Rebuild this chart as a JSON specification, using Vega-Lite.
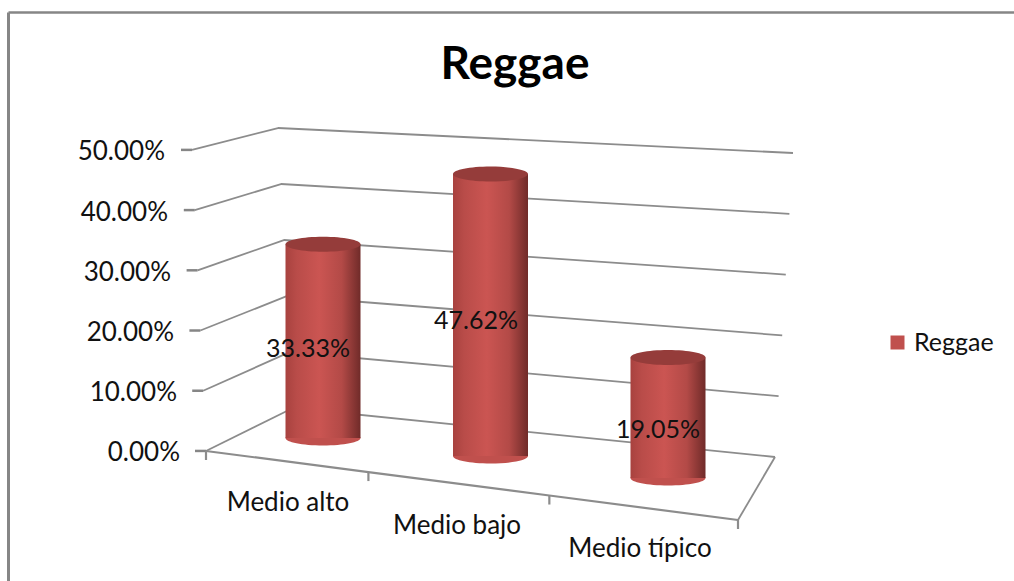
{
"$schema":"https://vega.github.io/schema/vega-lite/v6.json",
"width":1006,"height":569,
"autosize":{"type":"none"},
"padding":{"left":8,"top":12,"right":0,"bottom":0},
"background":"white",
"view":{"stroke":null},
"title":{"text":"Reggae","font":"Lato","fontSize":46,"fontWeight":"bold","color":"#000000","anchor":"middle","offset":-77,"dx":4},
"datasets":{
 "main":[
  {"category":"Medio alto","value":0.3333,"series":"Reggae"},
  {"category":"Medio bajo","value":0.4762,"series":"Reggae"},
  {"category":"Medio típico","value":0.1905,"series":"Reggae"}],
 "grid":[{"tick":0},{"tick":0.1},{"tick":0.2},{"tick":0.3},{"tick":0.4},{"tick":0.5}],
 "slots":[{"slot":0},{"slot":1},{"slot":2},{"slot":3}]
},
"layer":[
 {"data":{"name":"grid"},
  "mark":{"type":"rule","color":"#8c8c8c","strokeWidth":1.8,"y2Offset":{"expr":"-43+42*datum.tick"},"x2Offset":87},
  "encoding":{
   "x":{"field":"tick","type":"quantitative","scale":{"domain":[7.07,-28.86],"nice":false,"zero":false},
        "axis":{"orient":"top","title":null,"labels":false,"ticks":false,"grid":false,"domain":true,"domainColor":"#868686","domainWidth":2.5}},
   "x2":{"field":"tick"},
   "y":{"field":"tick","type":"quantitative","scale":{"domain":[-0.216,0.729],"nice":false,"zero":false},
        "axis":{"title":null,"labels":false,"grid":false,"ticks":false,"domain":true,"domainColor":"#868686","domainWidth":3}},
   "y2":{"field":"tick"}
  }},
 {"data":{"name":"grid"},
  "mark":{"type":"text","font":"Lato","fontSize":26,"color":"#111111","align":"right","yOffset":2.5},
  "encoding":{
   "x":{"field":"tick","type":"quantitative","scale":{"domain":[0,0.5],"range":[172,157],"nice":false,"zero":false},"axis":null},
   "y":{"field":"tick","type":"quantitative","scale":{"domain":[-0.216,0.729],"nice":false,"zero":false},"axis":null},
   "text":{"field":"tick","type":"quantitative","format":".2%"}
  }},
 {"data":{"name":"grid"},
  "mark":{"type":"rule","color":"#868686","strokeWidth":2.5,"x2Offset":-11},
  "encoding":{
   "x":{"field":"tick","type":"quantitative","scale":{"domain":[0,0.5],"range":[198,184],"nice":false,"zero":false},"axis":null},
   "x2":{"field":"tick"},
   "y":{"field":"tick","type":"quantitative","scale":{"domain":[-0.216,0.729],"nice":false,"zero":false},"axis":null}
  }},
 {"data":{"name":"grid"},
  "mark":{"type":"rule","color":"#8c8c8c","strokeWidth":1.8,"x2Offset":{"expr":"482+66*datum.tick"},"y2Offset":{"expr":"49-48*datum.tick"}},
  "encoding":{
   "x":{"field":"tick","type":"quantitative","scale":{"domain":[0,0.5],"range":[285,270],"nice":false,"zero":false},"axis":null},
   "x2":{"field":"tick"},
   "y":{"field":"tick","type":"quantitative","scale":{"domain":[0,0.5],"range":[396,116],"nice":false,"zero":false},"axis":null},
   "y2":{"field":"tick"}
  }},
 {"data":{"name":"slots"},
  "mark":{"type":"line","color":"#8c8c8c","strokeWidth":2.2},
  "encoding":{
   "x":{"field":"slot","type":"quantitative","scale":{"type":"pow","exponent":1.08,"domain":[0,3],"range":[198,730],"nice":false,"zero":false},"axis":null},
   "y":{"field":"slot","type":"quantitative","scale":{"type":"pow","exponent":1.08,"domain":[0,3],"range":[439,508],"nice":false,"zero":false},"axis":null}
  }},
 {"data":{"name":"slots"},
  "mark":{"type":"rule","color":"#8c8c8c","strokeWidth":2.2,"y2Offset":9},
  "encoding":{
   "x":{"field":"slot","type":"quantitative","scale":{"type":"pow","exponent":1.08,"domain":[0,3],"range":[198,730],"nice":false,"zero":false},"axis":null},
   "y":{"field":"slot","type":"quantitative","scale":{"type":"pow","exponent":1.08,"domain":[0,3],"range":[439,508],"nice":false,"zero":false},"axis":null},
   "y2":{"field":"slot"}
  }},
 {"data":{"values":[{"slot":3}]},
  "mark":{"type":"rule","color":"#8c8c8c","strokeWidth":1.8,"x2Offset":37,"y2Offset":-63},
  "encoding":{
   "x":{"field":"slot","type":"quantitative","scale":{"domain":[0,3],"range":[198,730],"nice":false,"zero":false},"axis":null},
   "x2":{"field":"slot"},
   "y":{"field":"slot","type":"quantitative","scale":{"domain":[0,3],"range":[439,508],"nice":false,"zero":false},"axis":null},
   "y2":{"field":"slot"}
  }},
 {"data":{"name":"main"},
  "mark":{"type":"point","shape":"M -1 0 A 1 0.2 0 1 0 1 0 A 1 0.2 0 1 0 -1 0 Z","filled":true,"opacity":1,"size":5625,
          "yOffset":{"expr":"{'Medio alto':0,'Medio bajo':18,'Medio típico':40}[datum.category]"},
          "xOffset":{"expr":"{'Medio alto':1,'Medio bajo':-4,'Medio típico':1}[datum.category]"}},
  "encoding":{
   "x":{"field":"category","type":"nominal","sort":null,"scale":{"type":"point","padding":0,"range":[314,659]},"axis":null},
   "y":{"datum":0,"type":"quantitative","scale":{"domain":[0,0.5],"range":[426,131],"nice":false,"zero":false},"axis":null},
   "color":{"field":"series","type":"nominal","scale":{"domain":["Reggae"],"range":["#c0504d"]},
     "legend":{"orient":"none","legendX":877,"legendY":318,"title":null,"symbolType":"square","symbolSize":196,"symbolStrokeWidth":0,"labelFont":"Lato","labelFontSize":25,"labelColor":"#111111","labelOffset":4}}
  }},
 {"data":{"name":"main"},
  "mark":{"type":"bar","width":75,"fill":{"gradient":"linear","x1":0,"y1":0,"x2":1,"y2":0,"stops":[{"offset":0,"color":"#a8423f"},{"offset":0.15,"color":"#b94c49"},{"offset":0.45,"color":"#cb5552"},{"offset":0.75,"color":"#b34a47"},{"offset":1,"color":"#702b29"}]},
          "yOffset":{"expr":"{'Medio alto':3,'Medio bajo':17,'Medio típico':32}[datum.category]"},
          "y2Offset":{"expr":"{'Medio alto':0,'Medio bajo':18,'Medio típico':40}[datum.category]"},
          "xOffset":{"expr":"{'Medio alto':1,'Medio bajo':-4,'Medio típico':1}[datum.category]"}},
  "encoding":{
   "x":{"field":"category","type":"nominal","sort":null,"scale":{"type":"point","padding":0,"range":[314,659]},"axis":null},
   "y":{"field":"value","type":"quantitative","scale":{"domain":[0,0.5],"range":[426,131],"nice":false,"zero":false},"axis":null},
   "y2":{"datum":0}
  }},
 {"data":{"name":"main"},
  "mark":{"type":"point","shape":"M -1 0 A 1 0.2 0 1 0 1 0 A 1 0.2 0 1 0 -1 0 Z","filled":true,"opacity":1,"size":5625,"fill":"#953c3a",
          "yOffset":{"expr":"{'Medio alto':3,'Medio bajo':17,'Medio típico':32}[datum.category]"},
          "xOffset":{"expr":"{'Medio alto':1,'Medio bajo':-4,'Medio típico':1}[datum.category]"}},
  "encoding":{
   "x":{"field":"category","type":"nominal","sort":null,"scale":{"type":"point","padding":0,"range":[314,659]},"axis":null},
   "y":{"field":"value","type":"quantitative","scale":{"domain":[0,0.5],"range":[426,131],"nice":false,"zero":false},"axis":null}
  }},
 {"data":{"name":"main"},
  "mark":{"type":"text","font":"Lato","fontSize":25,"color":"#111111",
          "yOffset":{"expr":"{'Medio alto':0,'Medio bajo':17.7,'Medio típico':35.3}[datum.category]"},
          "xOffset":{"expr":"{'Medio alto':1,'Medio bajo':-6,'Medio típico':1}[datum.category]"}},
  "encoding":{
   "x":{"field":"category","type":"nominal","sort":null,"scale":{"type":"point","padding":0,"range":[299,649]},"axis":null},
   "y":{"field":"value","type":"quantitative","scale":{"domain":[0,0.5],"range":[443.5,283.7],"nice":false,"zero":false},"axis":null},
   "text":{"field":"value","type":"quantitative","format":".2%"}
  }},
 {"data":{"name":"main"},
  "mark":{"type":"text","font":"Lato","fontSize":26,"color":"#111111",
          "xOffset":{"expr":"{'Medio alto':0,'Medio bajo':-7,'Medio típico':0}[datum.category]"}},
  "encoding":{
   "x":{"field":"category","type":"nominal","sort":null,"scale":{"type":"point","padding":0,"range":[280,632]},"axis":null},
   "y":{"field":"category","type":"nominal","sort":null,"scale":{"type":"point","padding":0,"range":[491,537]},"axis":null},
   "text":{"field":"category","type":"nominal"}
  }}
],
"resolve":{"scale":{"x":"independent","y":"independent"}}
}
